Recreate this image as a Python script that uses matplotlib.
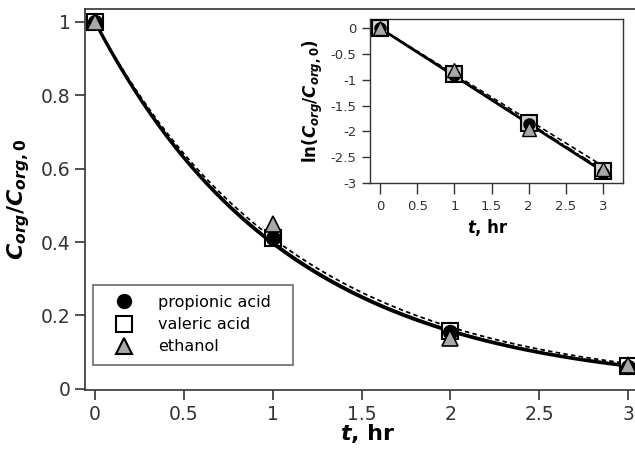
import numpy as np
import matplotlib
matplotlib.use("Agg")
import matplotlib.pyplot as plt
from matplotlib.lines import Line2D

# ---- data ----
t = [0, 1, 2, 3]
propionic = [1.0, 0.41, 0.155, 0.060]
valeric = [1.0, 0.41, 0.157, 0.062]
ethanol = [1.0, 0.45, 0.140, 0.066]
ln_propionic = [0.0, -0.90, -1.86, -2.80]
ln_valeric = [0.0, -0.89, -1.84, -2.76]
ln_ethanol = [0.0, -0.80, -1.96, -2.72]
# first-order fit rate constants (1/hr) for fit curves
k_propionic = 0.925
k_valeric = 0.915
k_ethanol = 0.89
labels = ["propionic acid", "valeric acid", "ethanol"]

plt.rcParams['font.family'] = ['DejaVu Sans']
plt.rcParams['mathtext.fontset'] = 'custom'
plt.rcParams['mathtext.it'] = 'DejaVu Sans:bold:italic'
plt.rcParams['mathtext.rm'] = 'DejaVu Sans:bold'
plt.rcParams['mathtext.bf'] = 'DejaVu Sans:bold'

fig = plt.figure(figsize=(6.35, 4.54), dpi=100)
ax = fig.add_axes([0.134, 0.141, 0.869, 0.839])

tt = np.linspace(0, 3, 200)
ax.plot(tt, np.exp(-k_propionic * tt), color='black', lw=2.4, zorder=2)
ax.plot(tt, np.exp(-k_valeric * tt), color='black', lw=1.4, zorder=2)
ax.plot(tt, np.exp(-k_ethanol * tt), color='black', lw=1.3, ls=(0, (2.5, 1.8)), zorder=2)

ms = 12
ax.plot(t, valeric, ls='none', marker='s', ms=ms, mfc='white', mec='black', mew=1.5, zorder=3)
ax.plot(t, propionic, ls='none', marker='o', ms=ms - 2, mfc='black', mec='black', mew=1.0, zorder=4)
ax.plot(t, ethanol, ls='none', marker='^', ms=ms - 1, mfc='#a8a8a8', mec='black', mew=1.2, zorder=5)

ax.set_xlim(-0.056, 3.05)
ax.set_ylim(-0.003, 1.035)
ax.set_xticks([0, 0.5, 1, 1.5, 2, 2.5, 3])
ax.set_xticklabels(['0', '0.5', '1', '1.5', '2', '2.5', '3'])
ax.set_yticks([0, 0.2, 0.4, 0.6, 0.8, 1])
ax.set_yticklabels(['0', '0.2', '0.4', '0.6', '0.8', '1'])
ax.tick_params(direction='out', length=7, width=1.2, labelsize=13.5, color='#333333', labelcolor='#333333')
for s in ax.spines.values():
    s.set_linewidth(1.2)
    s.set_color('#333333')
ax.set_ylabel(r'$C_{org}/C_{org,0}$', fontsize=16, labelpad=6)

# x label with italic bold t
fig.text(0.553, 0.022, 't', fontsize=16, fontweight='bold', fontstyle='italic', ha='right', va='bottom')
fig.text(0.553, 0.022, ', hr', fontsize=16, fontweight='bold', ha='left', va='bottom')

handles = [
    Line2D([], [], ls='none', marker='o', ms=10, mfc='black', mec='black'),
    Line2D([], [], ls='none', marker='s', ms=11, mfc='white', mec='black', mew=1.5),
    Line2D([], [], ls='none', marker='^', ms=11, mfc='#a8a8a8', mec='black', mew=1.5),
]
leg = ax.legend(handles, labels, loc='lower left', bbox_to_anchor=(0.0145, 0.066, 0.362, 0.213),
                mode='expand', borderaxespad=0, fontsize=11.5, frameon=True, fancybox=False,
                handletextpad=0.8, labelspacing=0.45, borderpad=0.65, handlelength=2.6)
leg.get_frame().set_edgecolor('#444444')
leg.get_frame().set_linewidth(1.2)

# ---- inset ----
ins = fig.add_axes([0.583, 0.597, 0.398, 0.361])
ins.plot(t, np.array(t) * -k_propionic, color='black', lw=2.0, zorder=2)
ins.plot(t, np.array(t) * -k_valeric, color='black', lw=1.2, ls=(0, (6, 2, 1, 2)), zorder=2)
ins.plot(t, np.array(t) * -k_ethanol, color='black', lw=1.2, ls=(0, (3, 2)), zorder=2)
ims = 11
ins.plot(t, ln_valeric, ls='none', marker='s', ms=ims, mfc='#d0d0d0', mec='black', mew=1.5, zorder=3)
ins.plot(t, ln_propionic, ls='none', marker='o', ms=ims - 3, mfc='black', mec='black', zorder=4)
ins.plot(t, ln_ethanol, ls='none', marker='^', ms=ims - 1, mfc='#a8a8a8', mec='black', mew=1.0, zorder=5)
ins.set_xlim(-0.135, 3.27)
ins.set_ylim(-3.0, 0.18)
ins.set_xticks([0, 0.5, 1, 1.5, 2, 2.5, 3])
ins.set_xticklabels(['0', '0.5', '1', '1.5', '2', '2.5', '3'])
ins.set_yticks([0, -0.5, -1, -1.5, -2, -2.5, -3])
ins.set_yticklabels(['0', '-0.5', '-1', '-1.5', '-2', '-2.5', '-3'])
ins.tick_params(direction='out', length=6, width=1.0, labelsize=9.5, color='#333333', labelcolor='#333333', pad=4)
ins.tick_params(axis='x', length=8, pad=4)
for s in ins.spines.values():
    s.set_linewidth(1.0)
    s.set_color('#333333')
ins.set_ylabel(r'$\mathrm{ln(}C_{org}/C_{org,0}\mathrm{)}$', fontsize=12, labelpad=4)
fig.text(0.748, 0.478, 't', fontsize=12, fontweight='bold', fontstyle='italic', ha='right', va='bottom')
fig.text(0.748, 0.478, ', hr', fontsize=12, fontweight='bold', ha='left', va='bottom')

fig.savefig('out.png', dpi=100)
